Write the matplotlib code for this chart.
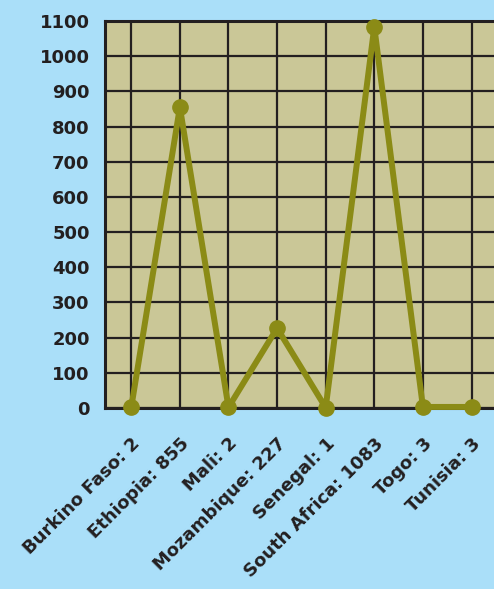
import matplotlib.pyplot as plt

# Casos por país
countries = ['Burkino Faso', 'Ethiopia', 'Mali', 'Mozambique',
             'Senegal', 'South Africa', 'Togo', 'Tunisia']
cases = [2, 855, 2, 227, 1, 1083, 3, 3]
labels = [f'{c}: {v}' for c, v in zip(countries, cases)]
yticks = list(range(0, 1101, 100))

bg = '#aadff9'
panel = '#cac797'
olive = '#8b8b16'
ink = '#231f20'

plt.rcParams['font.family'] = ['DejaVu Sans']

fig = plt.figure(figsize=(4.94, 5.89), dpi=100, facecolor=bg)
ax = fig.add_axes([0.2126, 0.3073, 0.795, 0.657])
ax.set_facecolor(panel)

x = list(range(len(countries)))
ax.plot(x, cases, color=olive, linewidth=4.3, marker='o', markersize=11,
        clip_on=False, zorder=3)

ax.set_xlim(-0.54, 7.54)
ax.set_ylim(0, 1100)
ax.set_xticks(x)
ax.set_xticklabels(labels, rotation=45, ha='right', va='top',
                   rotation_mode='anchor', fontsize=13, fontweight='bold',
                   color=ink)
ax.set_yticks(yticks)
ax.set_yticklabels([str(t) for t in yticks], fontsize=13,
                   fontweight='bold', color=ink)
ax.tick_params(axis='both', length=0)
ax.tick_params(axis='y', pad=11)
ax.tick_params(axis='x', pad=19)

ax.grid(True, color=ink, linewidth=1.6)
ax.set_axisbelow(True)
for s in ax.spines.values():
    s.set_color(ink)
    s.set_linewidth(2.2)
ax.spines['right'].set_visible(False)

fig.savefig('out.png', dpi=100, facecolor=bg)
